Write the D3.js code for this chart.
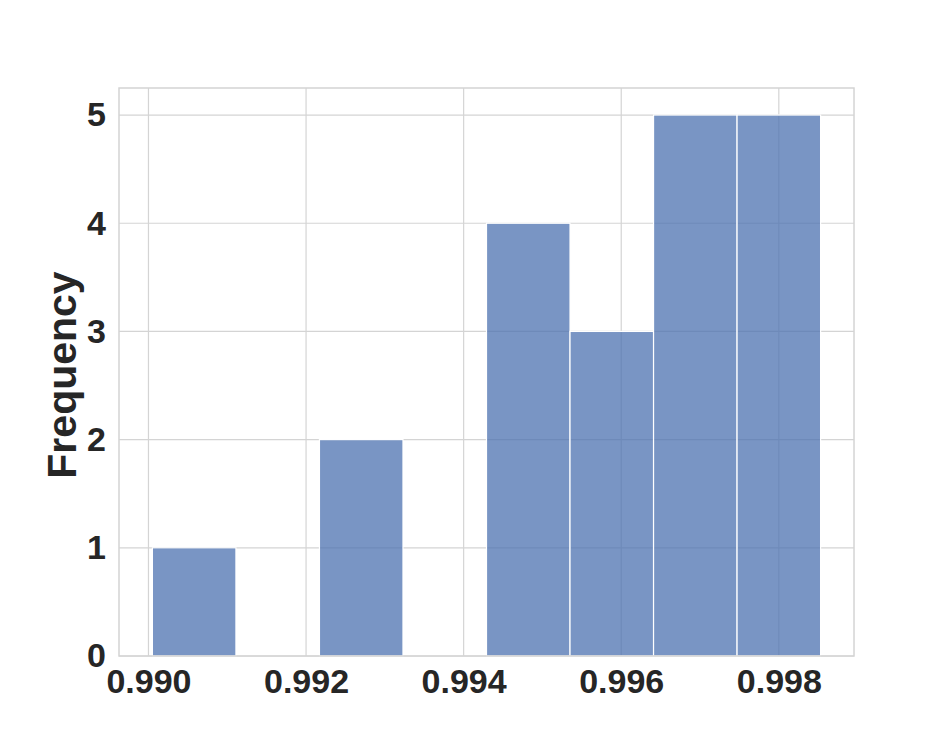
<!DOCTYPE html>
<html><head><meta charset="utf-8">
<script src="https://cdn.jsdelivr.net/npm/d3@7"></script>
<style>body{margin:0;background:#fff}svg{display:block}</style>
</head><body>
<script>
const binEdges = [0.99005, 0.99111, 0.99217, 0.99323, 0.99429, 0.99535, 0.99641, 0.99747, 0.99853];
const counts = [1, 0, 2, 0, 4, 3, 5, 5];
const xTicks = [0.990, 0.992, 0.994, 0.996, 0.998];
const yTicks = [0, 1, 2, 3, 4, 5];
const yLabel = "Frequency";

const W = 949, H = 737;
const m = {left: 119, right: 949 - 854, top: 88, bottom: 737 - 656};
const svg = d3.select("body").append("svg").attr("width", W).attr("height", H);

const span = binEdges[binEdges.length-1] - binEdges[0];
const x = d3.scaleLinear()
  .domain([binEdges[0] - span*0.05, binEdges[binEdges.length-1] + span*0.05])
  .range([m.left, W - m.right]);
const y = d3.scaleLinear().domain([0, d3.max(counts)*1.05]).range([H - m.bottom, m.top]);

const grid = "#d4d4d4";
const g = svg.append("g");
g.selectAll(".vg").data(xTicks).join("line")
  .attr("x1", d => x(d)).attr("x2", d => x(d))
  .attr("y1", m.top).attr("y2", H - m.bottom)
  .attr("stroke", grid).attr("stroke-width", 1.2);
g.selectAll(".hg").data(yTicks).join("line")
  .attr("y1", d => y(d)).attr("y2", d => y(d))
  .attr("x1", m.left).attr("x2", W - m.right)
  .attr("stroke", grid).attr("stroke-width", 1.2);

const bins = counts.map((c, i) => ({x0: binEdges[i], x1: binEdges[i+1], c}));
g.selectAll(".bar").data(bins.filter(b => b.c > 0)).join("rect")
  .attr("x", d => x(d.x0)).attr("width", d => x(d.x1) - x(d.x0))
  .attr("y", d => y(d.c)).attr("height", d => y(0) - y(d.c))
  .attr("fill", "#4C72B0").attr("fill-opacity", 0.75)
  .attr("stroke", "#ffffff").attr("stroke-width", 1.2);

svg.append("rect").attr("x", m.left).attr("y", m.top)
  .attr("width", W - m.right - m.left).attr("height", H - m.bottom - m.top)
  .attr("fill", "none").attr("stroke", grid).attr("stroke-width", 1.5);

const font = "'Liberation Sans', Arial, sans-serif";
const xAxis = svg.append("g").attr("transform", `translate(0,${H - m.bottom})`)
  .call(d3.axisBottom(x).tickValues(xTicks).tickFormat(d3.format(".3f")).tickSize(0).tickPadding(13));
const yAxis = svg.append("g").attr("transform", `translate(${m.left},0)`)
  .call(d3.axisLeft(y).tickValues(yTicks).tickFormat(d3.format("d")).tickSize(0).tickPadding(13));
[xAxis, yAxis].forEach(a => {
  a.select(".domain").remove();
  a.selectAll("text").attr("font-family", font).attr("font-weight", "bold")
    .attr("font-size", 34).attr("fill", "#262626");
});

svg.append("text")
  .attr("transform", `translate(76,${(m.top + H - m.bottom)/2 + 3}) rotate(-90)`)
  .attr("text-anchor", "middle")
  .attr("font-family", font).attr("font-weight", "bold").attr("font-size", 41)
  .attr("fill", "#262626").text(yLabel);
</script>
</body></html>
